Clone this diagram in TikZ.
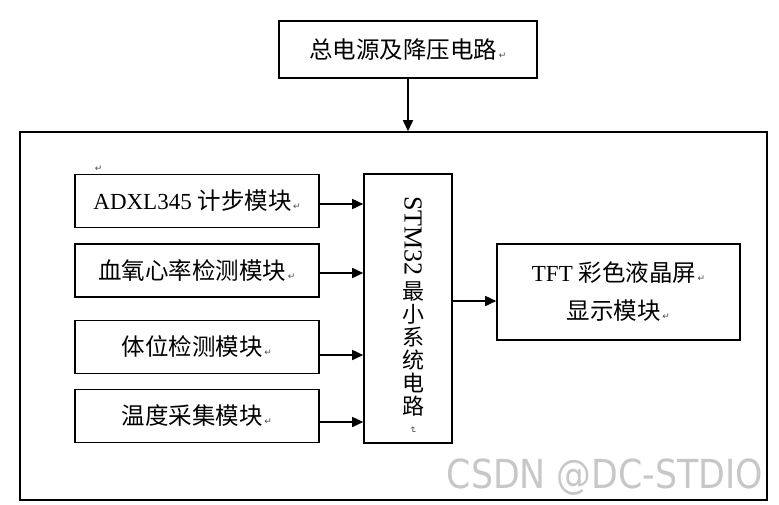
\documentclass[tikz,border=0pt]{standalone}
\usepackage{fontspec}
\setmainfont{Liberation Serif}
\newfontfamily\cjk{Noto Sans CJK SC}
\newfontfamily\djv{DejaVu Sans}
\newfontfamily\wmfont{DejaVu Sans}
\usetikzlibrary{arrows.meta,calc}
\newcommand{\rt}{{\djv\fontsize{9}{9}\selectfont\color{black!70}\,↵}}
\newcommand{\ck}[1]{{\cjk\fontsize{23.5}{26}\selectfont #1}}
\newcommand{\cv}[1]{{\cjk\fontsize{22}{23}\selectfont #1}}
\begin{document}
\begin{tikzpicture}[x=1pt,y=-1pt,
  box/.style={draw,line width=1.6pt,rectangle,inner sep=0pt,font=\fontsize{23}{26}\selectfont},
  arr/.style={line width=1.6pt,-{Triangle[length=11pt,width=10pt]}}]
\useasboundingbox (0,0) rectangle (779,504);
\node[box,minimum width=258pt,minimum height=57pt] (top) at (408,49.5) {\ck{总电源及降压电路}\rt};
\node[box,minimum width=747pt,minimum height=368pt] (sys) at (393.5,316) {};
\node[box,minimum width=244pt,minimum height=53pt] (adxl) at (197,201) {ADXL345 \ck{计步模块}\rt};
\node[box,minimum width=244pt,minimum height=53pt] (spo) at (197,270.5) {\ck{血氧心率检测模块}\rt};
\node[box,minimum width=244pt,minimum height=53pt] (pos) at (197,347) {\ck{体位检测模块}\rt};
\node[box,minimum width=244pt,minimum height=53pt] (tmp) at (197,416) {\ck{温度采集模块}\rt};
\node[box,minimum width=88pt,minimum height=269pt] (stm) at (408,308.5) {};
\node[font=\fontsize{26}{23}\selectfont,align=center,inner sep=0pt,anchor=north] (stmtxt) at (413,196)
  {\rotatebox[origin=c]{-90}{STM32}\\[5pt]\cv{最}\\\cv{小}\\\cv{系}\\\cv{统}\\\cv{电}\\\cv{路}};
\node[inner sep=0pt] (stmrt) at (413,430) {\rotatebox{-90}{\rt}};
\node[box,minimum width=243pt,minimum height=96pt,align=center,font=\fontsize{23}{38}\selectfont] (tft) at (618.5,292)
  {TFT \ck{彩色液晶屏}\rt\\\ck{显示模块}\rt};
\node[inner sep=0pt] (rtmark) at (98,169) {\rt};
\node[text=black!22,font=\wmfont\fontsize{40}{40}\selectfont,inner sep=0pt] (wm) at (605,477) {\scalebox{0.87}[1]{CSDN @DC-STDIO}};
\draw[arr] (top.south) -- (top.south |- sys.north);
\draw[arr] ([yshift=-3pt]adxl.east) -- ([yshift=-3pt]adxl.east -| stm.west);
\draw[arr] ([yshift=-2.5pt]spo.east) -- ([yshift=-2.5pt]spo.east -| stm.west);
\draw[arr] ([yshift=-8pt]pos.east) -- ([yshift=-8pt]pos.east -| stm.west);
\draw[arr] ([yshift=-6pt]tmp.east) -- ([yshift=-6pt]tmp.east -| stm.west);
\draw[arr] ([yshift=-9pt]tft.west -| stm.east) -- ([yshift=-9pt]tft.west);
\end{tikzpicture}
\end{document}
